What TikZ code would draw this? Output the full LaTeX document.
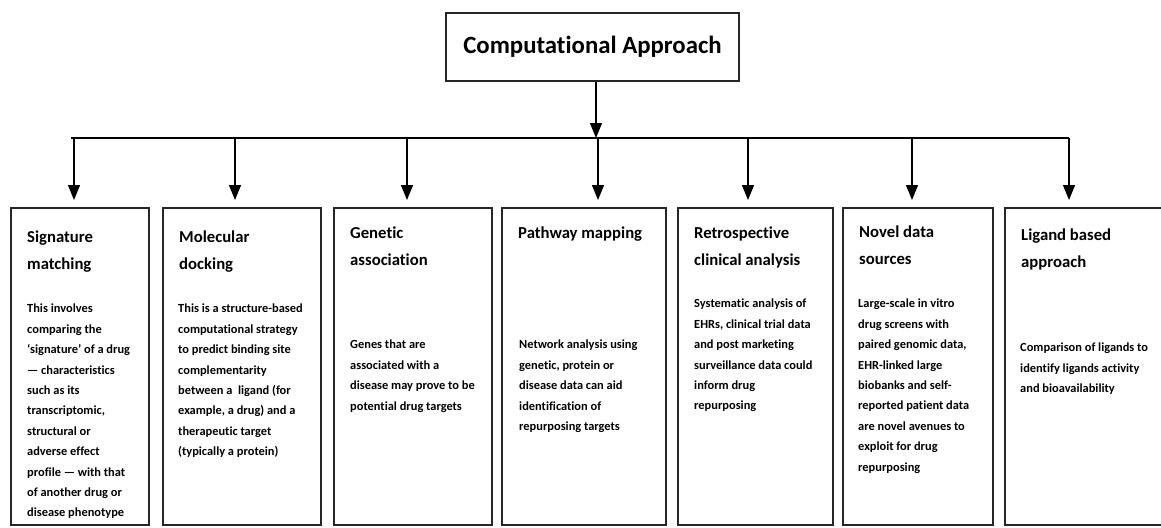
\documentclass[tikz,border=0pt]{standalone}
\usepackage{fontspec}
\setmainfont[Ligatures=NoCommon]{Carlito}
\usetikzlibrary{positioning, arrows.meta}

\begin{document}
\begin{tikzpicture}[
    x=1pt, y=-1pt,
    box/.style={draw=black!85, line width=1.8pt, minimum width=#1, minimum height=317pt, anchor=north west, inner sep=0pt},
    head/.style={anchor=north west, inner sep=0pt, align=left, font=\fontsize{16.7}{26.5}\selectfont\bfseries},
    desc/.style={anchor=north west, inner sep=0pt, align=left, font=\fontsize{12.4}{20.4}\selectfont\bfseries},
    arr/.style={-{Triangle[length=15pt, width=12pt]}, line width=1.3pt},
    bus/.style={line width=1.5pt}
]
\useasboundingbox (0,0) rectangle (1161,527);

% top box
\node[draw=black!85, line width=1.8pt, minimum width=293pt, minimum height=68pt, font=\fontsize{24.8}{28}\selectfont\bfseries] (root) at (592.5,47) {Computational Approach};

% frames
\node[box=138pt] (sig) at (10,207) {};
\node[box=158pt] (dock) at (162,207) {};
\node[box=158pt] (gen) at (333,207) {};
\node[box=164pt] (path) at (501,207) {};
\node[box=155pt] (retro) at (677,207) {};
\node[box=150pt] (novel) at (842,207) {};
\node[box=175pt] (ligand) at (1004,207) {};

% titles
\node[head, below right=24pt and 17pt of sig.north west] (sigT) {Signature\\matching};
\node[head, below right=24pt and 17pt of dock.north west] (dockT) {Molecular\\docking};
\node[head, below right=20pt and 17pt of gen.north west] (genT) {Genetic\\association};
\node[head, below right=20pt and 17pt of path.north west] (pathT) {Pathway mapping};
\node[head, below right=20pt and 17pt of retro.north west] (retroT) {Retrospective\\clinical analysis};
\node[head, below right=19pt and 17pt of novel.north west] (novelT) {Novel data\\sources};
\node[head, below right=22pt and 17pt of ligand.north west] (ligandT) {Ligand based\\approach};

% descriptions
\node[desc, below right=97pt and 17pt of sig.north west] (sigD) {This involves\\comparing the\\‘signature’ of a drug\\— characteristics\\such as its\\transcriptomic,\\structural or\\adverse effect\\profile — with that\\of another drug or\\disease phenotype};
\node[desc, below right=97pt and 16pt of dock.north west] (dockD) {This is a structure-based\\computational strategy\\to predict binding site\\complementarity\\between a~ ligand (for\\example, a drug) and a\\therapeutic target\\(typically a protein)};
\node[desc, below right=133pt and 17pt of gen.north west] (genD) {Genes that are\\associated with a\\disease may prove to be\\potential drug targets};
\node[desc, below right=133pt and 18pt of path.north west] (pathD) {Network analysis using\\genetic, protein or\\disease data can aid\\identification of\\repurposing targets};
\node[desc, below right=92pt and 17pt of retro.north west] (retroD) {Systematic analysis of\\EHRs, clinical trial data\\and post marketing\\surveillance data could\\inform drug\\repurposing};
\node[desc, below right=92pt and 16pt of novel.north west] (novelD) {Large-scale in vitro\\drug screens with\\paired genomic data,\\EHR-linked large\\biobanks and self-\\reported patient data\\are novel avenues to\\exploit for drug\\repurposing};
\node[desc, below right=136pt and 16pt of ligand.north west] (ligandD) {Comparison of ligands to\\identify ligands activity\\and bioavailability};

% connectors
\coordinate (hub) at (596,138);
\coordinate (busL) at (71,138);
\coordinate (busR) at (1069,138);
\draw[arr] (root.south -| hub) -- (hub);
\draw[bus] (busL) -- (busR);

\coordinate (b1) at (74,138);
\coordinate (b2) at (235,138);
\coordinate (b3) at (407,138);
\coordinate (b4) at (598,138);
\coordinate (b5) at (748,138);
\coordinate (b6) at (912,138);
\coordinate (b7) at (1069,138);
\draw[arr, shorten >=7pt] (b1) -- (b1 |- sig.north);
\draw[arr, shorten >=7pt] (b2) -- (b2 |- dock.north);
\draw[arr, shorten >=7pt] (b3) -- (b3 |- gen.north);
\draw[arr, shorten >=7pt] (b4) -- (b4 |- path.north);
\draw[arr, shorten >=7pt] (b5) -- (b5 |- retro.north);
\draw[arr, shorten >=7pt] (b6) -- (b6 |- novel.north);
\draw[arr, shorten >=7pt] (b7) -- (b7 |- ligand.north);

\end{tikzpicture}
\end{document}
